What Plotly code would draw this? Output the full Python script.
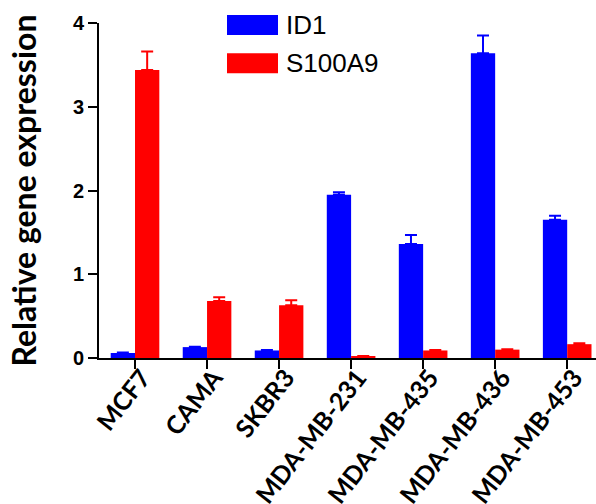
import plotly.graph_objects as go

# Cell lines and relative expression (mean, upper error) for each gene
cell_lines = ["MCF7", "CAMA", "SKBR3", "MDA-MB-231", "MDA-MB-435", "MDA-MB-436", "MDA-MB-453"]
id1_mean = [0.06, 0.13, 0.09, 1.95, 1.36, 3.64, 1.65]
id1_err = [0.005, 0.005, 0.005, 0.03, 0.11, 0.21, 0.05]
s100a9_mean = [3.44, 0.68, 0.63, 0.02, 0.09, 0.10, 0.165]
s100a9_err = [0.22, 0.045, 0.06, 0.003, 0.005, 0.005, 0.01]
y_ticks = [0, 1, 2, 3, 4]

series = [
    ("ID1", id1_mean, id1_err, "#0000ff"),
    ("S100A9", s100a9_mean, s100a9_err, "#ff0000"),
]

fig = go.Figure()
for name, mean, err, color in series:
    fig.add_trace(go.Bar(
        name=name,
        x=cell_lines,
        y=mean,
        marker=dict(color=color, line=dict(width=0)),
        error_y=dict(type="data", array=err, arrayminus=[0] * len(err),
                     symmetric=False, color=color, thickness=2, width=6),
        showlegend=False,
    ))

# Legend drawn as wide colour swatches with labels
plot_left, plot_w = 99, 497
plot_bottom, plot_h = 358.3, 335.3

def px_x(v):
    return (v - plot_left) / plot_w

def px_y(v):
    return (plot_bottom - v) / plot_h

legend_rows = [(name, color, 15 + 38.3 * i) for i, (name, _, _, color) in enumerate(series)]
for name, color, top in legend_rows:
    fig.add_shape(type="rect", xref="paper", yref="paper",
                  x0=px_x(227), x1=px_x(278), y0=px_y(top + 20), y1=px_y(top),
                  fillcolor=color, line=dict(width=0))
    fig.add_annotation(text=name, xref="paper", yref="paper",
                       x=px_x(284), y=px_y(top + 10), xanchor="left", yanchor="middle",
                       showarrow=False,
                       font=dict(family="Liberation Sans, Arial", size=26, color="black"))

fig.update_layout(
    width=596, height=504,
    margin=dict(l=99, r=0, t=23, b=146),
    paper_bgcolor="white", plot_bgcolor="white",
    barmode="group", bargap=0.325, bargroupgap=0,
    xaxis=dict(
        range=[-0.5, 6.4],
        automargin=False,
        showline=True, linecolor="black", linewidth=2,
        ticks="outside", ticklen=9, tickwidth=2, tickcolor="black",
        tickangle=-52,
        ticklabelstandoff=-16, ticklabelshift=7,
        tickfont=dict(family="Lato", size=25, color="black", weight="bold"),
        showgrid=False, zeroline=False,
    ),
    yaxis=dict(
        range=[0, 4],
        automargin=False,
        tickvals=y_ticks,
        showline=True, linecolor="black", linewidth=2,
        ticks="outside", ticklen=9, tickwidth=2, tickcolor="black",
        tickfont=dict(family="Liberation Sans, Arial", size=20, color="black", weight="bold"),
        showgrid=False, zeroline=False,
        title=dict(text="Relative gene expression", standoff=27,
                   font=dict(family="Lato", size=32, color="black", weight="bold")),
    ),
)

fig.write_html("out.html")
